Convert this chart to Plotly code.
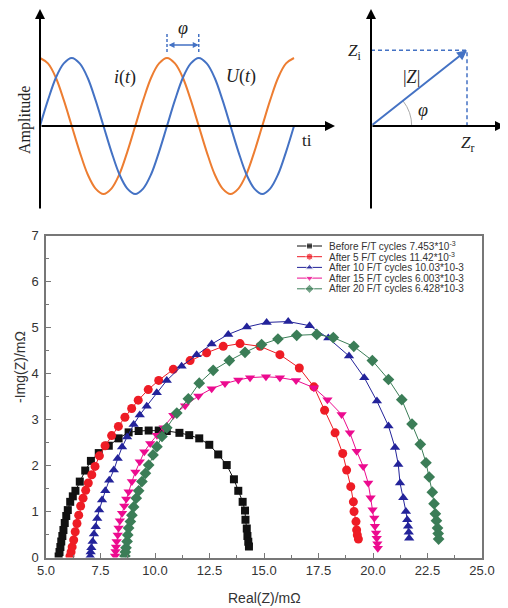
import plotly.graph_objects as go

W, H = 508, 608
OFF = 8  # page body margin: the figure is drawn 8px right/down of the window corner

# ---------------- Nyquist data ----------------
series_names = [
    "Before F/T cycles 7.453*10<sup>-3</sup>",
    "After 5 F/T cycles 11.42*10<sup>-3</sup>",
    "After 10 F/T cycles 10.03*10-3",
    "After 15 F/T cycles 6.003*10-3",
    "After 20 F/T cycles 6.428*10-3",
]

x_before = [5.58, 5.62, 5.66, 5.70, 5.75, 5.80, 5.86, 5.93, 6.00, 6.11, 6.23, 6.35, 6.55, 6.80,
            7.06, 7.42, 7.88, 8.33, 8.79, 9.25, 9.71, 10.17, 10.54, 11.12, 11.57, 12.03, 12.49,
            12.90, 13.29, 13.62, 13.82, 14.02, 14.13, 14.15, 14.21, 14.24, 14.28, 14.31]
y_before = [0.02, 0.12, 0.23, 0.35, 0.47, 0.60, 0.75, 0.90, 1.03, 1.21, 1.33, 1.45, 1.65, 1.89,
            2.10, 2.27, 2.43, 2.59, 2.72, 2.75, 2.76, 2.76, 2.75, 2.71, 2.66, 2.59, 2.45,
            2.24, 2.01, 1.70, 1.45, 1.21, 1.02, 0.82, 0.63, 0.47, 0.34, 0.24]

x_after5 = [6.10, 6.15, 6.20, 6.27, 6.34, 6.42, 6.50, 6.59, 6.70, 6.82, 6.94, 7.10, 7.25, 7.45,
            7.71, 8.01, 8.32, 8.62, 8.93, 9.23, 9.69, 10.17, 10.84, 11.61, 12.37, 13.13, 13.90,
            14.82, 15.73, 16.62, 17.29, 17.78, 18.26, 18.61, 18.79, 18.98, 19.10, 19.13, 19.22,
            19.25, 19.28, 19.33]
y_after5 = [0.03, 0.12, 0.23, 0.38, 0.56, 0.74, 0.92, 1.12, 1.29, 1.46, 1.62, 1.80, 1.98, 2.21,
            2.43, 2.65, 2.85, 3.05, 3.24, 3.42, 3.65, 3.85, 4.09, 4.28, 4.45, 4.59, 4.65,
            4.59, 4.41, 4.12, 3.71, 3.20, 2.71, 2.26, 1.90, 1.54, 1.21, 1.00, 0.78,
            0.60, 0.49, 0.40]

x_after10 = [7.03, 7.05, 7.08, 7.14, 7.20, 7.28, 7.35, 7.44, 7.57, 7.72, 7.90, 8.11, 8.29, 8.49,
             8.72, 9.02, 9.30, 9.62, 10.08, 10.54, 11.22, 11.91, 12.60, 13.36, 14.21, 15.12,
             16.11, 17.09, 17.95, 18.90, 19.60, 20.18, 20.71, 21.01, 21.16, 21.24, 21.39, 21.51,
             21.57, 21.61, 21.64, 21.66]
y_after10 = [0.03, 0.12, 0.21, 0.35, 0.51, 0.67, 0.85, 1.03, 1.25, 1.45, 1.68, 1.90, 2.15, 2.40,
             2.62, 2.89, 3.10, 3.29, 3.58, 3.85, 4.16, 4.41, 4.64, 4.85, 5.01, 5.11,
             5.13, 5.04, 4.77, 4.38, 3.91, 3.40, 2.86, 2.39, 2.02, 1.62, 1.30, 1.00,
             0.82, 0.68, 0.55, 0.42]

x_after15 = [8.17, 8.19, 8.21, 8.24, 8.29, 8.33, 8.39, 8.49, 8.59, 8.68, 8.79, 8.94, 9.10, 9.30,
             9.51, 9.78, 10.09, 10.40, 10.84, 11.38, 11.99, 12.60, 13.21, 13.82, 14.36, 15.09,
             15.73, 16.47, 17.29, 17.91, 18.56, 18.94, 19.25, 19.55, 19.78, 19.89, 19.98, 20.06,
             20.09, 20.14, 20.17, 20.20, 20.22]
y_after15 = [0.03, 0.13, 0.23, 0.35, 0.49, 0.64, 0.80, 0.96, 1.12, 1.27, 1.43, 1.65, 1.86, 2.08,
             2.30, 2.48, 2.66, 2.82, 3.09, 3.30, 3.51, 3.67, 3.78, 3.86, 3.91, 3.93,
             3.91, 3.85, 3.69, 3.43, 3.11, 2.71, 2.31, 1.98, 1.62, 1.30, 1.04, 0.86,
             0.68, 0.53, 0.42, 0.30, 0.20]

x_after20 = [8.62, 8.64, 8.67, 8.72, 8.75, 8.79, 8.87, 8.94, 9.02, 9.14, 9.25, 9.40, 9.56, 9.71,
             9.91, 10.09, 10.32, 10.54, 11.00, 11.53, 12.03, 12.67, 13.41, 14.13, 14.89, 15.64,
             16.50, 17.42, 18.18, 19.12, 19.97, 20.71, 21.32, 21.79, 22.17, 22.43, 22.58, 22.72,
             22.80, 22.86, 22.91, 22.96, 22.99, 23.01]
y_after20 = [0.03, 0.12, 0.21, 0.35, 0.49, 0.64, 0.78, 0.92, 1.10, 1.29, 1.45, 1.65, 1.83, 2.01,
             2.23, 2.41, 2.63, 2.82, 3.14, 3.45, 3.79, 4.07, 4.28, 4.46, 4.63, 4.75,
             4.83, 4.85, 4.78, 4.59, 4.28, 3.87, 3.43, 2.90, 2.46, 2.06, 1.75, 1.42,
             1.17, 0.95, 0.80, 0.64, 0.52, 0.40]

xs = [x_before, x_after5, x_after10, x_after15, x_after20]
ys = [y_before, y_after5, y_after10, y_after15, y_after20]
colors = ["#111111", "#ee1c25", "#23239a", "#ec0b8f", "#3b7d57"]
symbols = ["square", "circle", "triangle-up", "triangle-down", "diamond"]
msizes = [8, 9, 9, 9, 9]

x_ticks = [5.0, 7.5, 10.0, 12.5, 15.0, 17.5, 20.0, 22.5, 25.0]
y_ticks = [0, 1, 2, 3, 4, 5, 6, 7]

# ---------------- schematic wave data (in periods / unit amplitude) ----------------
t_wave = [0, 0.0625, 0.125, 0.1875, 0.25, 0.3125, 0.375, 0.4375, 0.5, 0.5625, 0.625, 0.6875,
          0.75, 0.8125, 0.875, 0.9375, 1.0, 1.0625, 1.125, 1.1875, 1.25, 1.3125, 1.375, 1.4375,
          1.5, 1.5625, 1.625, 1.6875, 1.75, 1.8125, 1.875, 1.9375, 2.0]
wave_blue = [0, 0.38, 0.71, 0.92, 1, 0.92, 0.71, 0.38, 0, -0.38, -0.71, -0.92, -1, -0.92, -0.71, -0.38,
             0, 0.38, 0.71, 0.92, 1, 0.92, 0.71, 0.38, 0, -0.38, -0.71, -0.92, -1, -0.92, -0.71, -0.38, 0]
wave_orange = [1, 0.92, 0.71, 0.38, 0, -0.38, -0.71, -0.92, -1, -0.92, -0.71, -0.38, 0, 0.38, 0.71, 0.92,
               1, 0.92, 0.71, 0.38, 0, -0.38, -0.71, -0.92, -1, -0.92, -0.71, -0.38, 0, 0.38, 0.71, 0.92, 1]
phase_t = [1.0, 1.25]          # orange peak -> blue peak
phasor_z = [1.0, 0.79]         # (Zr, Zi)

ORANGE = "#ed7d31"
BLUE = "#4472c4"
SERIF = "Liberation Serif, Times New Roman, serif"
SANS = "Arial, Liberation Sans, sans-serif"


def px2fx(px):
    """window x pixel -> paper fraction"""
    return (px - OFF) / W


def py2fy(py):
    """window y pixel -> paper fraction"""
    return 1 - (py - OFF) / H


# wave diagram: t = (px - 40) / 127 ; a = (126 - py) / 68
def t_of(px):
    return (px - 40) / 127


def a_of(py):
    return (126 - py) / 68


# phasor diagram: u = (px - 371) / 96 ; v = (126 - py) / 96
def u_of(px):
    return (px - 371) / 96


def v_of(py):
    return (126 - py) / 96


fig = go.Figure()

# ---- Nyquist traces ----
for i in range(5):
    fig.add_trace(go.Scatter(
        x=xs[i], y=ys[i], mode="lines+markers",
        line=dict(color=colors[i], width=1),
        marker=dict(symbol=symbols[i], size=msizes[i], color=colors[i]),
        xaxis="x", yaxis="y", showlegend=False, hoverinfo="skip"))

# ---- legend samples (own small axes, y in window pixels) ----
legend_rows = [246, 256.7, 267.4, 278.1, 288.8]
for i in range(5):
    fig.add_trace(go.Scatter(
        x=[0, 0.5, 1], y=[legend_rows[i]] * 3, mode="lines+markers",
        line=dict(color=colors[i], width=1),
        marker=dict(symbol=symbols[i], size=[0, msizes[i] - 2, 0], color=colors[i]),
        xaxis="x4", yaxis="y4", showlegend=False, hoverinfo="skip"))

# ---- waves ----
fig.add_trace(go.Scatter(x=t_wave, y=wave_orange, mode="lines", line=dict(color=ORANGE, width=2, shape="spline", smoothing=1),
                         xaxis="x2", yaxis="y2", showlegend=False, hoverinfo="skip"))
fig.add_trace(go.Scatter(x=t_wave, y=wave_blue, mode="lines", line=dict(color=BLUE, width=2, shape="spline", smoothing=1),
                         xaxis="x2", yaxis="y2", showlegend=False, hoverinfo="skip"))
for tp in phase_t:
    fig.add_trace(go.Scatter(x=[tp, tp], y=[a_of(52), a_of(32)], mode="lines", line=dict(color=BLUE, width=1.5, dash="3px,2px"),
                             xaxis="x2", yaxis="y2", showlegend=False, hoverinfo="skip"))

# ---- phasor dashed projections ----
fig.add_trace(go.Scatter(x=[0, phasor_z[0], phasor_z[0]], y=[phasor_z[1], phasor_z[1], 0], mode="lines",
                         line=dict(color=BLUE, width=1.5, dash="4px,3px"),
                         xaxis="x3", yaxis="y3", showlegend=False, hoverinfo="skip"))

annotations = []


def arrow(x, y, ax, ay, xr, yr, color="black", width=2, side="end", size=1.0):
    annotations.append(dict(x=x, y=y, ax=ax, ay=ay, xref=xr, yref=yr, axref=xr, ayref=yr,
                            text="", showarrow=True, arrowhead=2, arrowsize=size, arrowwidth=width,
                            arrowcolor=color, arrowside=side, standoff=0, startstandoff=0))


def text(s, x, y, xr, yr, size, family=SERIF, color="#222222", angle=0, xanchor="center", yanchor="middle"):
    annotations.append(dict(text=s, x=x, y=y, xref=xr, yref=yr, showarrow=False, textangle=angle,
                            font=dict(size=size, family=family, color=color),
                            xanchor=xanchor, yanchor=yanchor))


# wave diagram axes
arrow(0, a_of(9), 0, a_of(210), "x2", "y2")
arrow(t_of(335), 0, 0, 0, "x2", "y2")
arrow(phase_t[1], a_of(45), phase_t[0], a_of(45), "x2", "y2", color=BLUE, width=1.5, side="end+start", size=0.8)
text("Amplitude", t_of(25), a_of(120), "x2", "y2", 16, angle=-90)
text("<i>i</i>(<i>t</i>)", t_of(125), a_of(77), "x2", "y2", 18)
text("<i>U</i>(<i>t</i>)", t_of(241), a_of(76), "x2", "y2", 18)
text("<i>φ</i>", t_of(183), a_of(28), "x2", "y2", 18)
text("ti", t_of(300), a_of(140), "x2", "y2", 17, xanchor="left")

# phasor diagram
arrow(0, v_of(9), 0, v_of(210), "x3", "y3")
arrow(u_of(505), 0, 0, 0, "x3", "y3")
arrow(phasor_z[0], phasor_z[1], 0, 0, "x3", "y3", color=BLUE, width=2)
text("<i>Z</i><sub>i</sub>", u_of(354), v_of(52), "x3", "y3", 17)
text("<i>Z</i><sub>r</sub>", u_of(467), v_of(144), "x3", "y3", 17)
text("|<i>Z</i>|", u_of(411), v_of(77), "x3", "y3", 18)
text("<i>φ</i>", u_of(423), v_of(110), "x3", "y3", 18)

# Nyquist titles
text("Real(Z)/mΩ", px2fx(264), py2fy(598), "paper", "paper", 14, family=SANS, color="#333333")
text("-Img(Z)/mΩ", px2fx(20), py2fy(367), "paper", "paper", 14, family=SANS, color="#333333", angle=-90)

# legend texts
for i in range(5):
    text(series_names[i], px2fx(327), py2fy(legend_rows[i]), "paper", "paper", 10, family=SANS,
         color="#333333", xanchor="left")

shapes = [dict(type="path", path="M 0.424 0 Q 0.424 0.146 0.334 0.261", xref="x3", yref="y3",
               line=dict(color="#aaaaaa", width=1))]

axis_common = dict(showline=True, mirror=True, linecolor="#777777", linewidth=1.5, showgrid=False,
                   zeroline=False, ticks="inside", ticklen=5, tickwidth=1, tickcolor="#777777",
                   automargin=False,
                   tickfont=dict(family=SANS, size=13, color="#333333"))

hidden = dict(visible=False, showgrid=False, zeroline=False, fixedrange=True, automargin=False)

fig.update_layout(
    width=W, height=H, autosize=False,
    margin=dict(l=0, r=0, t=0, b=0, pad=0, autoexpand=False),
    paper_bgcolor="white", plot_bgcolor="rgba(0,0,0,0)",
    showlegend=False,
    xaxis=dict(domain=[px2fx(46), px2fx(482)], range=[5, 25], anchor="y",
               tickvals=x_ticks, ticktext=[f"{v:.1f}" for v in x_ticks],
               minor=dict(ticks="inside", dtick=1.25, tick0=5, ticklen=3, tickcolor="#777777"),
               **axis_common),
    yaxis=dict(domain=[py2fy(557.5), py2fy(235.5)], range=[0, 7], anchor="x",
               tickvals=y_ticks, ticklabelstandoff=3,
               minor=dict(ticks="inside", dtick=0.5, tick0=0, ticklen=3, tickcolor="#777777"),
               **axis_common),
    xaxis2=dict(domain=[px2fx(8), px2fx(340)], range=[t_of(8), t_of(340)], anchor="y2", **hidden),
    yaxis2=dict(domain=[py2fy(215), py2fy(8)], range=[a_of(215), a_of(8)], anchor="x2", **hidden),
    xaxis3=dict(domain=[px2fx(340), px2fx(508)], range=[u_of(340), u_of(508)], anchor="y3", **hidden),
    yaxis3=dict(domain=[py2fy(215), py2fy(8)], range=[v_of(215), v_of(8)], anchor="x3", **hidden),
    xaxis4=dict(domain=[px2fx(297), px2fx(322)], range=[0, 1], anchor="y4", **hidden),
    yaxis4=dict(domain=[py2fy(296), py2fy(239)], range=[296, 239], anchor="x4", **hidden),
    annotations=annotations,
    shapes=shapes,
)

fig.write_html("out.html")
